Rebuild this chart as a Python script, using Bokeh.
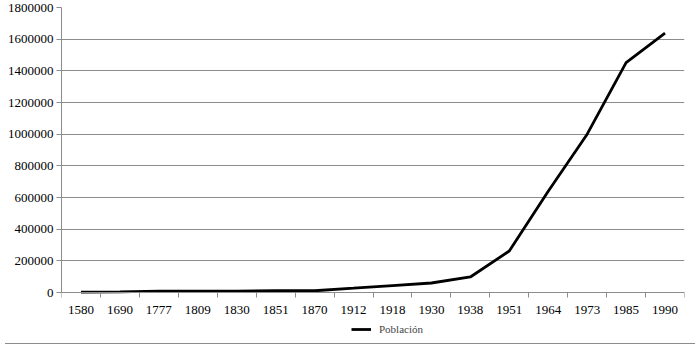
from bokeh.plotting import figure
from bokeh.models import FixedTicker, Legend, LegendItem, Range1d, NumeralTickFormatter, Div
from bokeh.layouts import column
from bokeh.embed import file_html
from bokeh.resources import INLINE

years = ["1580", "1690", "1777", "1809", "1830", "1851", "1870", "1912",
         "1918", "1930", "1938", "1951", "1964", "1973", "1985", "1990"]
poblacion = [2000, 4000, 9000, 9000, 9000, 12000, 11000, 27000,
             44000, 60000, 98000, 262000, 640000, 1000000, 1452000, 1638000]
y_ticks = [0, 200000, 400000, 600000, 800000, 1000000, 1200000, 1400000, 1600000, 1800000]

FONT = "Liberation Serif"
GRID = "#8c8c8c"

n = len(years)
xs = [i + 0.5 for i in range(n)]

# frame runs down to the bottom rule; value 0 sits 45px above the frame bottom
Y_TOP = 1800000
Y_BOTTOM = -Y_TOP * 45 / 285

p = figure(width=697, height=338, output_backend="svg", toolbar_location=None,
           x_range=Range1d(0, n), y_range=Range1d(Y_BOTTOM, Y_TOP),
           min_border_left=61, min_border_right=13, min_border_top=7, min_border_bottom=1)
p.outline_line_color = None
p.background_fill_color = "white"
p.border_fill_color = "white"

r = p.line(xs, poblacion, line_color="black", line_width=2.8)

# x axis at value 0: labels at category centres, tick marks at category boundaries
xa = p.xaxis[0]
xa.fixed_location = 0
xa.ticker = FixedTicker(ticks=xs, minor_ticks=list(range(n + 1)))
xa.major_label_overrides = {x: y for x, y in zip(xs, years)}
xa.major_tick_line_color = None
xa.minor_tick_line_color = GRID
xa.minor_tick_in = 0
xa.minor_tick_out = 5
xa.axis_line_color = GRID
xa.major_label_text_font = FONT
xa.major_label_text_font_size = "13px"
xa.major_label_text_color = "black"
xa.major_label_standoff = 7

ya = p.yaxis[0]
ya.bounds = (0, Y_TOP)
ya.ticker = FixedTicker(ticks=y_ticks)
ya.formatter = NumeralTickFormatter(format="0")
ya.minor_tick_line_color = None
ya.major_tick_line_color = GRID
ya.major_tick_in = 0
ya.major_tick_out = 5
ya.axis_line_color = GRID
ya.major_label_text_font = FONT
ya.major_label_text_font_size = "13px"
ya.major_label_text_color = "black"
ya.major_label_standoff = 3

p.xgrid.grid_line_color = None
p.ygrid.grid_line_color = GRID
p.ygrid.ticker = FixedTicker(ticks=y_ticks)

legend = Legend(items=[LegendItem(label="Población", renderers=[r])],
                location=(290, 2), orientation="horizontal",
                label_text_font=FONT, label_text_font_size="11px",
                border_line_color=None, background_fill_alpha=0,
                glyph_width=20, glyph_height=12, label_standoff=8,
                padding=2, margin=0, spacing=0)
p.add_layout(legend, "center")

rule = Div(text="", width=690, height=1,
           styles={"border-top": "1px solid #8c8c8c"})

layout = column(p, rule, spacing=0)
open("out.html", "w").write(file_html(layout, INLINE))
